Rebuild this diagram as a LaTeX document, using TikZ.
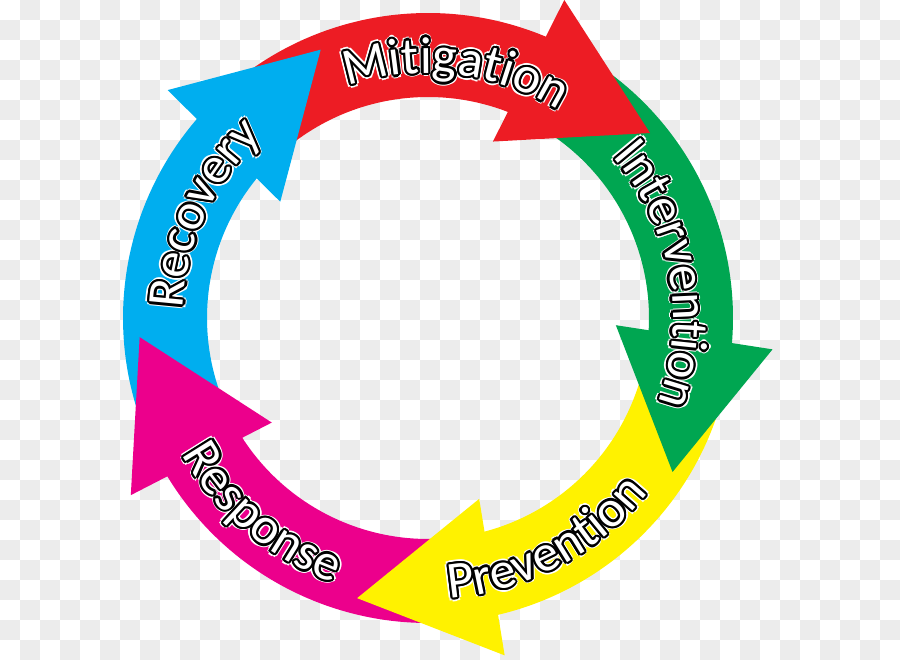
\documentclass[tikz,border=0pt]{standalone}
\usepackage{fontspec}
\setmainfont{Carlito}
\usetikzlibrary{decorations.text}
\definecolor{myred}{HTML}{ED1C24}
\definecolor{mygreen}{HTML}{00A651}
\definecolor{myyellow}{HTML}{FFF200}
\definecolor{mypink}{HTML}{EC008C}
\definecolor{myblue}{HTML}{00AEEF}
\definecolor{checkgray}{HTML}{ECECEC}
\newcommand\lblfont{\fontsize{52}{60}\selectfont}
\newcommand\ringlabel[4]{%
 \foreach \ang in {0,45,...,315}{%
  \path[shift={(\ang:3.8)}, decorate, decoration={text along path, text align=center, text color=white, text={|\lblfont|#1}}] (#2:#4) arc[start angle=#2, end angle=#3, radius=#4];}%
 \foreach \ang in {0,30,...,330}{%
  \path[shift={(\ang:2.3)}, decorate, decoration={text along path, text align=center, text color=black, text={|\lblfont|#1}}] (#2:#4) arc[start angle=#2, end angle=#3, radius=#4];}%
 \path[decorate, decoration={text along path, text align=center, text color=white, text={|\lblfont|#1}}] (#2:#4) arc[start angle=#2, end angle=#3, radius=#4];}
\tikzset{checker/.style={fill=checkgray}}
\begin{document}
\begin{tikzpicture}[x=1pt,y=1pt]
\useasboundingbox (0,0) rectangle (900,660);
\clip (0,0) rectangle (900,660);
\fill[white] (0,0) rectangle (900,660);
\foreach \i in {0,...,44}{\foreach \j in {0,...,32}{%
 \pgfmathtruncatemacro\s{mod(\i+\j,2)}%
 \ifnum\s=1 \fill[checker] ({20*\i},{640-20*\j}) rectangle ++(20,20);\fi}}
\begin{scope}[shift={(428,342)}]
 % arrow bodies
 \foreach \T/\c in {39.8/myred, -32.2/mygreen, -104.2/myyellow, -176.2/mypink, 111.8/myblue}{%
  \pgfmathsetmacro\a{\T+94}\pgfmathsetmacro\b{\T+27}%
  \fill[\c] (\a:305) arc[start angle=\a, end angle=\b, radius=305] -- (\b:221) arc[start angle=\b, end angle=\a, radius=221] -- cycle;}
 % arrow heads
 \foreach \T/\c in {39.8/myred, -32.2/mygreen, -104.2/myyellow, -176.2/mypink, 111.8/myblue}{%
  \pgfmathsetmacro\o{\T+27}\pgfmathsetmacro\n{\T+30}%
  \fill[\c] (\T:289) -- (\o:346) -- (\n:188) -- cycle;}
 % labels
 \ringlabel{Mitigation}{128.5}{38.5}{245}
 \ringlabel{Intervention}{55.5}{-34.5}{245}
 \ringlabel{Recovery}{200.1}{110.1}{245}
 \ringlabel{Prevention}{-107}{-17}{281}
 \ringlabel{Response}{184.7}{274.7}{281}
\end{scope}
\end{tikzpicture}
\end{document}
